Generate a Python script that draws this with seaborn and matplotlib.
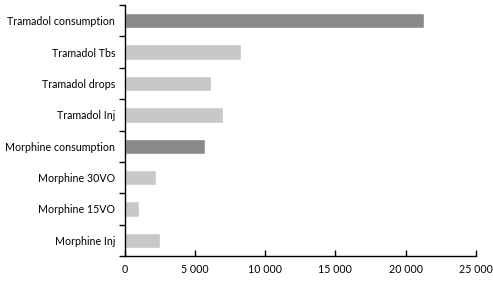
import numpy as np
import pandas as pd
import matplotlib
matplotlib.use("Agg")
import matplotlib.pyplot as plt
import seaborn as sns
from matplotlib.ticker import FuncFormatter, FixedLocator

sns.set_theme(style="ticks")
plt.rcParams['font.family'] = ['Lato', 'DejaVu Sans']

# data
drugs = ["Tramadol consumption", "Tramadol Tbs", "Tramadol drops", "Tramadol Inj",
         "Morphine consumption", "Morphine 30VO", "Morphine 15VO", "Morphine Inj"]
amounts = [21300, 8300, 6100, 7000, 5700, 2200, 1000, 2500]
is_total = [True, False, False, False, True, False, False, False]

mydata = pd.DataFrame({"drug": drugs, "amount": amounts})
colors = ["#8a8a8a" if t else "#c8c8c8" for t in is_total]

fig = plt.figure(figsize=(4.93, 2.82), dpi=100)
ax = fig.add_axes([0.2535, 0.092, 0.965 - 0.2535, 0.982 - 0.092])

sns.barplot(x="amount", y="drug", data=mydata, hue="drug", palette=colors,
            legend=False, width=0.49, orient="h", ax=ax)

ax.set_xlim(0, 25000)
ax.set_ylim(len(drugs) - 0.5, -0.5)
ax.set_xticks(range(0, 25001, 5000))
ax.xaxis.set_major_formatter(FuncFormatter(lambda v, p: f"{int(v):,}".replace(",", " ")))
ax.tick_params(axis="x", direction="in", length=4, width=1, labelsize=7.7, pad=6, colors="black")
ax.tick_params(axis="y", which="major", length=0, labelsize=7.7, pad=7, colors="black")
ax.yaxis.set_minor_locator(FixedLocator(np.arange(-0.5, len(drugs), 1)))
ax.tick_params(axis="y", which="minor", direction="out", length=4, width=1, color="black")
ax.set_xlabel("")
ax.set_ylabel("")
for s in ["top", "right"]:
    ax.spines[s].set_visible(False)
for s in ["left", "bottom"]:
    ax.spines[s].set_color("black")
    ax.spines[s].set_linewidth(1)

fig.savefig("out.png", dpi=100)
